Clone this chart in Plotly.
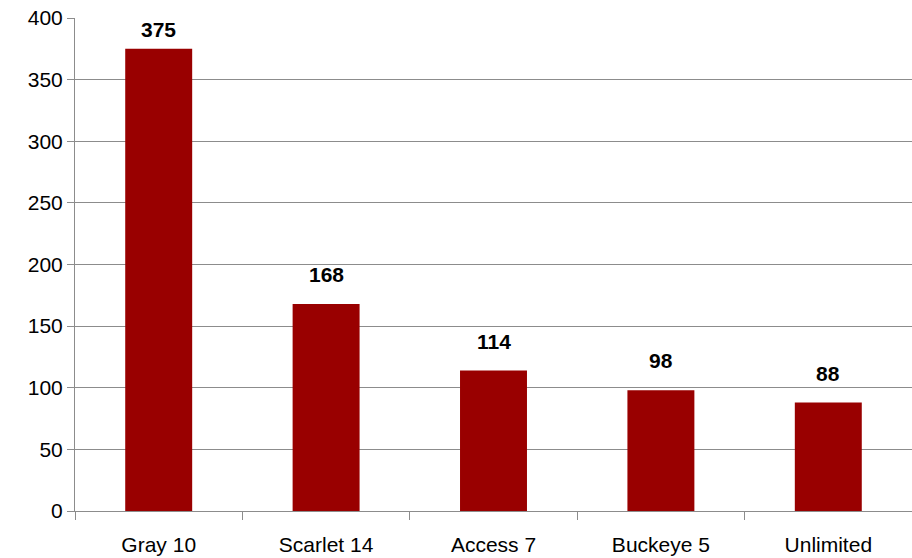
import plotly.graph_objects as go

categories = ["Gray 10", "Scarlet 14", "Access 7", "Buckeye 5", "Unlimited"]
values = [375, 168, 114, 98, 88]

FONT = "Liberation Sans, Arial, sans-serif"
BAR_COLOR = "#990000"
GRID = "#8c8c8c"

W, H = 912, 558
M = dict(l=75, r=0, t=18, b=47)

fig = go.Figure()
fig.add_trace(go.Bar(
    x=categories, y=values, marker=dict(color=BAR_COLOR, line=dict(width=0)),
    width=0.4, hoverinfo="skip"
))

plot_h = H - M["t"] - M["b"]
ymax = 400
for c, v in zip(categories, values):
    px_to_top = (ymax - v) * plot_h / ymax
    shift = max(6, min(16, px_to_top - 25))
    fig.add_annotation(
        x=c, y=v, yanchor="bottom", xanchor="center", yshift=shift,
        text=f"<b>{v}</b>", showarrow=False,
        font=dict(family=FONT, size=21, color="#000000"),
    )

fig.update_layout(
    width=W, height=H,
    margin=M,
    paper_bgcolor="white", plot_bgcolor="white",
    showlegend=False,
    font=dict(family=FONT, size=21, color="#000000"),
)
fig.update_xaxes(
    type="category", showgrid=False, showline=True, linecolor=GRID, linewidth=1,
    ticks="outside", tickson="boundaries", ticklen=8, tickcolor=GRID,
    tickfont=dict(family=FONT, size=21, color="#000000"), ticklabelstandoff=15,
    fixedrange=True,
)
fig.update_yaxes(
    range=[0, 400], tick0=0, dtick=50, showgrid=True, gridcolor=GRID, gridwidth=1,
    showline=True, linecolor=GRID, linewidth=1, ticks="outside", ticklen=7,
    tickcolor=GRID, zeroline=False, tickfont=dict(family=FONT, size=21, color="#000000"),
    fixedrange=True,
)

fig.write_html(
    "out.html",
    config={"displayModeBar": False},
    post_script="document.body.style.margin='0';document.body.style.overflow='hidden';",
)
